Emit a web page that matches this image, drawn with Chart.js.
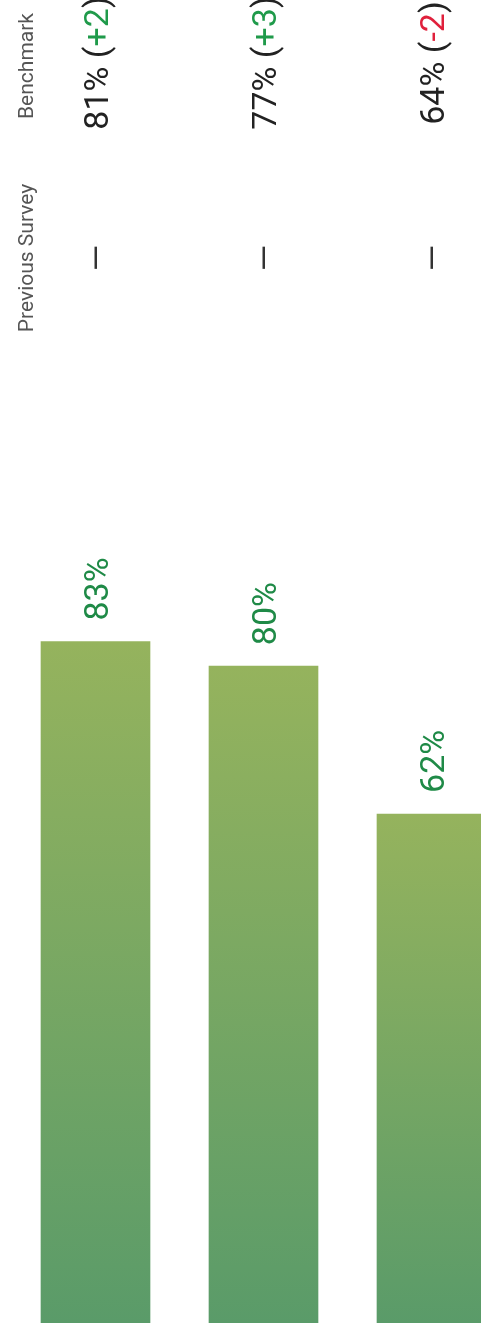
<!DOCTYPE html>
<html>
<head>
<meta charset="utf-8">
<script src="https://cdn.jsdelivr.net/npm/chart.js@4"></script>
<style>
  html, body { margin: 0; padding: 0; background: #fff; overflow: hidden; }
  #wrap { width: 530px; height: 1331px; }
</style>
</head>
<body>
<div id="wrap"><canvas id="chart1"></canvas></div>
<script>
// values
var categories = ['Item 1', 'Item 2', 'Item 3'];
var scores = [83, 80, 62];
var previousSurvey = ['—', '—', '—'];
var benchmarkValues = [81, 77, 64];
var benchmarkDiffs = [2, 3, -2];
var columnHeaders = ['Previous Survey', 'Benchmark'];

var valueFont = '400 34px Roboto, "Open Sans", sans-serif';
var headFont = '400 21px Roboto, "Open Sans", sans-serif';

function barGradient(context){
    var chart = context.chart;
    if(!chart.chartArea || context.dataIndex === undefined) return '#78a660';
    var y = chart.scales.y;
    var top = y.getPixelForValue(scores[context.dataIndex]);
    var bottom = y.getPixelForValue(0);
    var g = chart.ctx.createLinearGradient(0, top, 0, bottom);
    g.addColorStop(0, '#95b35d');
    g.addColorStop(1, '#5a9b69');
    return g;
}

// draws the rotated texts: bar values, previous survey and benchmark columns
var textPlugin = {
    id: 'rotatedTexts',
    afterDraw: function(chart){
        var ctx = chart.ctx;
        var meta = chart.getDatasetMeta(0);

        function rotText(parts, x, y, align){
            ctx.save();
            ctx.translate(x, y);
            ctx.rotate(-Math.PI / 2);
            ctx.textBaseline = 'alphabetic';
            ctx.textAlign = 'left';
            var total = 0;
            for(var p of parts){ ctx.font = p.font; total += ctx.measureText(p.text).width; }
            var start = align == 'center' ? -total / 2 : 0;
            for(var p of parts){
                ctx.font = p.font;
                ctx.fillStyle = p.color;
                ctx.fillText(p.text, start, 0);
                start += ctx.measureText(p.text).width;
            }
            ctx.restore();
        }

        // headers
        rotText([{text: columnHeaders[0], font: headFont, color: '#555'}], 33, 258, 'center');
        rotText([{text: columnHeaders[1], font: headFont, color: '#555'}], 33, 66, 'center');

        meta.data.forEach(function(bar, i){
            var cx = bar.x;
            var base = cx + 12;
            // value above bar
            rotText([{text: scores[i] + '%', font: valueFont, color: '#1f8a47'}], base, bar.y - 21, 'left');
            // previous survey
            rotText([{text: previousSurvey[i], font: valueFont, color: '#333'}], base, 258, 'center');
            // benchmark
            var d = benchmarkDiffs[i];
            rotText([
                {text: benchmarkValues[i] + '% (', font: valueFont, color: '#222'},
                {text: (d > 0 ? '+' : '') + d, font: valueFont, color: d >= 0 ? '#1f9a4a' : '#e0203c'},
                {text: ')', font: valueFont, color: '#222'}
            ], base, 63, 'center');
        });
    }
};

var chart1 = new Chart(document.getElementById('chart1').getContext('2d'), {
    type: 'bar',
    data: {
        labels: categories,
        datasets: [{
            data: scores,
            backgroundColor: barGradient,
            borderWidth: 0,
            barThickness: 109
        }]
    },
    options: {
        responsive: true,
        maintainAspectRatio: false,
        animation: false,
        layout: { padding: { left: 11.5, right: 14.5, top: 502, bottom: 8 } },
        plugins: { legend: { display: false }, tooltip: { enabled: false } },
        scales: {
            x: { display: false, offset: true },
            y: { display: false, min: 0, max: 100 }
        }
    },
    plugins: [textPlugin]
});
</script>
</body>
</html>
